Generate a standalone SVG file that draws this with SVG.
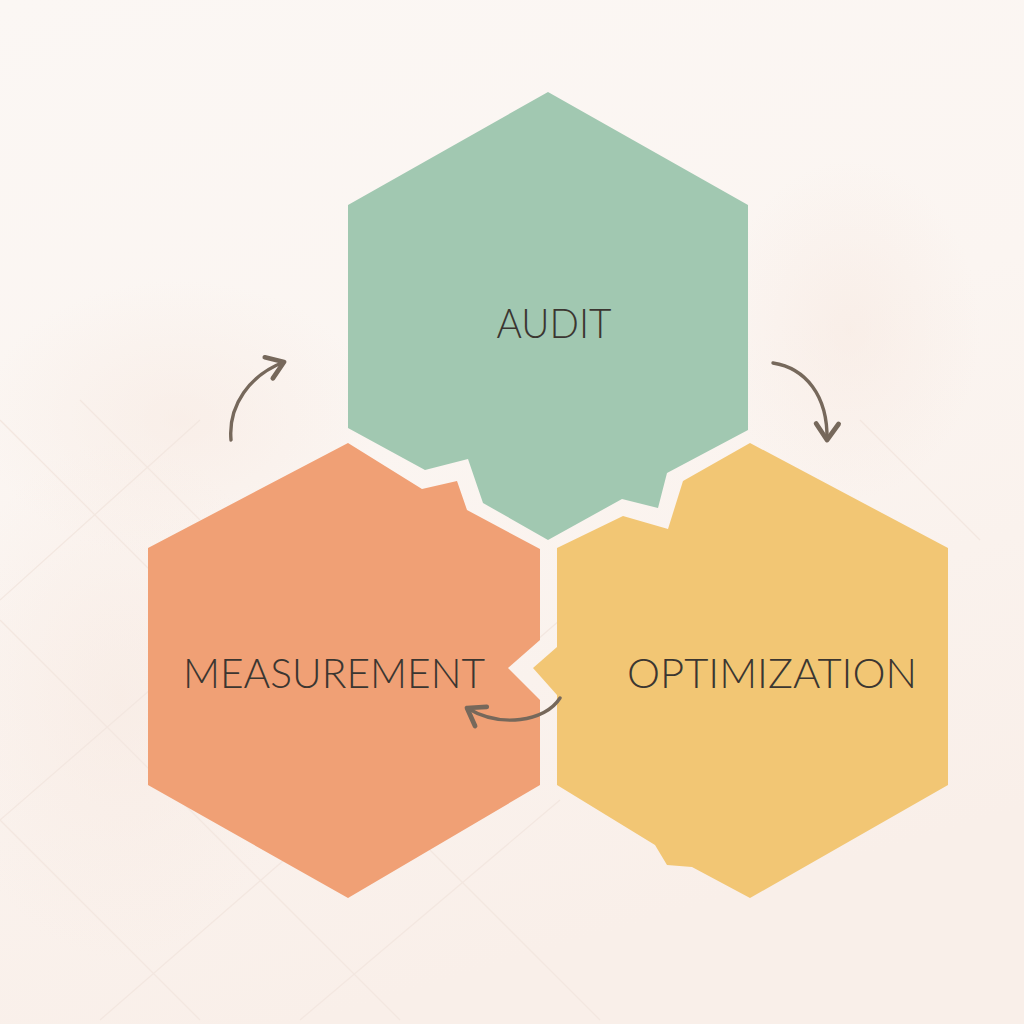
<svg xmlns="http://www.w3.org/2000/svg" width="1024" height="1024" viewBox="0 0 1024 1024">
  <defs>
    <linearGradient id="bg" x1="0" y1="0" x2="0.3" y2="1">
      <stop offset="0" stop-color="#FBF7F4"/>
      <stop offset="0.5" stop-color="#FBF5F1"/>
      <stop offset="1" stop-color="#F9EFE9"/>
    </linearGradient>
    <radialGradient id="blot" cx="0.5" cy="0.5" r="0.5">
      <stop offset="0" stop-color="#F6E6DD" stop-opacity="0.45"/>
      <stop offset="1" stop-color="#F6E6DD" stop-opacity="0"/>
    </radialGradient>
    <marker id="arrow" markerUnits="userSpaceOnUse" markerWidth="30" markerHeight="30" refX="0" refY="0" viewBox="-16 -12 20 24" orient="auto" overflow="visible">
      <path d="M-13,-9 L0,0 L-13,9" fill="none" stroke="#76685B" stroke-width="3.8" stroke-linecap="round" stroke-linejoin="round"/>
    </marker>
    <style>
      .lbl { font-family: "Lato", "Liberation Sans", sans-serif; font-weight: 300; font-size: 42px; fill: #3B3631; }
      .conn { fill: none; stroke: #76685B; stroke-width: 3.4; stroke-linecap: round; marker-end: url(#arrow); }
      .grid { stroke: #F3E7E0; stroke-width: 1.3; fill: none; }
    </style>
  </defs>

  <rect width="1024" height="1024" fill="url(#bg)"/>
  <ellipse cx="180" cy="420" rx="200" ry="140" fill="url(#blot)"/>
  <ellipse cx="850" cy="330" rx="130" ry="170" fill="url(#blot)"/>
  <ellipse cx="120" cy="700" rx="180" ry="260" fill="url(#blot)"/>
  <g class="grid">
    <path d="M0,420 L600,1020"/>
    <path d="M0,620 L400,1020"/>
    <path d="M0,820 L200,1020"/>
    <path d="M0,600 L200,420"/>
    <path d="M0,820 L300,560"/>
    <path d="M100,1020 L560,620"/>
    <path d="M300,1020 L560,800"/>
    <path d="M80,400 L200,520"/>
    <path d="M860,420 L980,540"/>
  </g>

  <g id="node-audit">
    <path d="M548,92 L748,205 L748,430 L667,473 L658,508 L622,499 L548,540 L483,503 L468,459 L425,470 L348,428 L348,205 Z" fill="#A1C8B1"/>
    <text class="lbl" x="554" y="338" text-anchor="middle" textLength="115" lengthAdjust="spacingAndGlyphs">AUDIT</text>
  </g>

  <g id="node-measurement">
    <path d="M348,443 L422,489 L457,481 L467,510 L540,549 L540,640 L508,668 L540,700 L540,785 L348,898 L148,785 L148,548 Z" fill="#F0A075"/>
    <text class="lbl" x="334" y="688" text-anchor="middle" textLength="302" lengthAdjust="spacingAndGlyphs">MEASUREMENT</text>
  </g>

  <g id="node-optimization">
    <path d="M750,443 L948,548 L948,785 L750,898 L692,867 L667,865 L655,845 L557,785 L557,695 L533,668 L557,647 L557,548 L623,516 L668,529 L683,481 Z" fill="#F2C674"/>
    <text class="lbl" x="772" y="688" text-anchor="middle" textLength="290" lengthAdjust="spacingAndGlyphs">OPTIMIZATION</text>
  </g>

  <g id="connectors">
    <path class="conn" d="M231,440 C228,405 250,375 284,362"/>
    <path class="conn" d="M773,363 C805,368 828,395 827,440"/>
    <path class="conn" d="M560,698 C545,722 500,728 467,708"/>
  </g>
</svg>
